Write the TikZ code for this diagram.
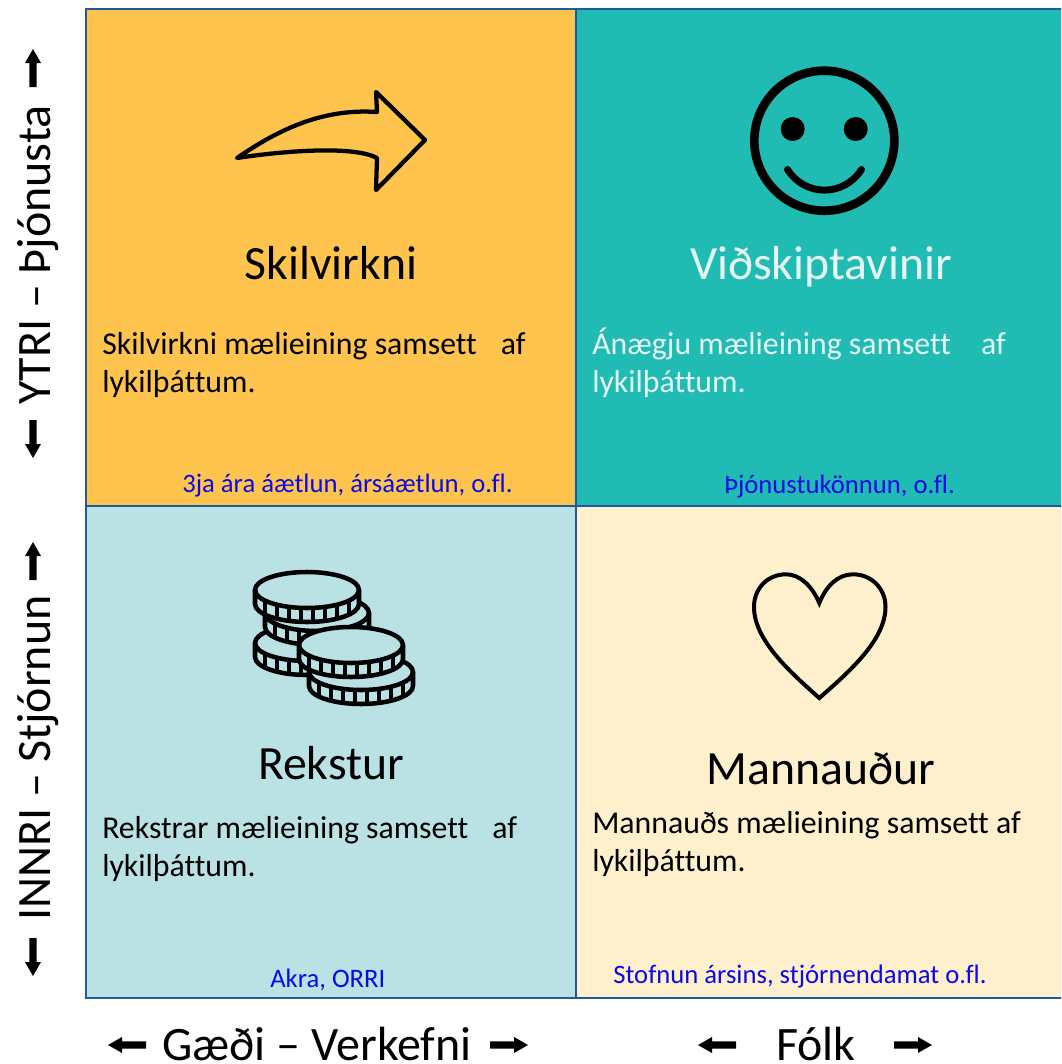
\documentclass[tikz,border=0pt]{standalone}
\usepackage{fontspec}
\setmainfont[Ligatures=CommonOff]{Carlito}
\definecolor{orangeq}{HTML}{FEC44D}
\definecolor{tealq}{HTML}{20BBB2}
\definecolor{blueq}{HTML}{BAE2E4}
\definecolor{creamq}{HTML}{FFF0CD}
\definecolor{edgeq}{HTML}{1F5A9C}
\definecolor{paleq}{HTML}{E6F6F5}
\definecolor{noteq}{HTML}{0A0AE6}
\tikzset{
  quad/.style={draw=edgeq,line width=2.2pt},
  title/.style={inner sep=0pt,anchor=base,font=\fontsize{35.8}{40}\selectfont},
  body/.style={inner sep=0pt,anchor=base west,align=left,font=\fontsize{23.85}{28.5}\selectfont},
  note/.style={inner sep=0pt,anchor=base west,text=noteq,font=\fontsize{20}{24}\selectfont},
  axis/.style={inner sep=0pt,font=\fontsize{36}{40}\selectfont},
  icon/.style={line width=3.2pt,line join=round,line cap=round},
  thickarrow/.style={fill=black,draw=none}
}
% coin: centre x,y
\newcommand{\coinq}[2]{%
  \fill[blueq] (#1-52,#2) -- (#1-52,#2+14) arc[start angle=180,end angle=0,x radius=52,y radius=18] -- (#1+52,#2) arc[start angle=0,end angle=-180,x radius=52,y radius=18] -- cycle;
  \foreach \k in {-42,-30,-18,-6,6,18,30,42}{
    \pgfmathsetmacro{\yy}{#2+18*sqrt(1-(\k/52)*(\k/52))}
    \draw[line width=2.6pt] (#1+\k,\yy) -- (#1+\k,\yy+14);
  }
  \draw[icon,line width=3.4pt] (#1-52,#2) -- (#1-52,#2+14) arc[start angle=180,end angle=0,x radius=52,y radius=18] -- (#1+52,#2);
  \draw[icon,line width=3.4pt] (#1,#2) ellipse[x radius=52,y radius=18];
}
\newcommand{\barrow}[3]{% x,y,rotation (pointing up by default, origin at tip)
  \fill[thickarrow,shift={(#1,#2)},rotate=#3] (0,0) -- (8,14) -- (3.6,14) -- (3.6,38) -- (-3.6,38) -- (-3.6,14) -- (-8,14) -- cycle;
}
\begin{document}
\begin{tikzpicture}[x=0.75pt,y=-0.75pt]
\useasboundingbox (0,0) rectangle (1061,1064);
\clip (0,0) rectangle (1061,1064);
\fill[white] (0,0) rectangle (1061,1064);
% quadrants
\path[quad,fill=orangeq] (86,9) rectangle (576,506);
\path[quad,fill=tealq] (576,9) rectangle (1066,506);
\path[quad,fill=blueq] (86,506) rectangle (576,998);
\path[quad,fill=creamq] (576,506) rectangle (1066,998);
% arrow icon
\draw[icon] (237,158) .. controls (275,132) and (320,108) .. (377,112) -- (376,92) -- (425,140) -- (376,190) -- (377,158) .. controls (355,146) and (290,150) .. (237,158) -- cycle;
% smiley
\draw[line width=6.5pt] (824.3,140.7) circle[radius=70];
\fill (792.7,129) circle[radius=12];
\fill (855.7,129) circle[radius=12];
\draw[line width=5.2pt,line cap=round] (787.5,169.5) .. controls (805,197) and (844,197) .. (861.5,169.5);
% coins
\coinq{307}{643}
\coinq{317}{613}
\coinq{307}{590}
\coinq{361}{672}
\coinq{351}{645}
% heart
\draw[line width=3pt,line join=miter] (819.3,698) .. controls (790,672) and (754,640) .. (754,607) .. controls (754,588) and (768,574.3) .. (786,574.3) .. controls (800,574.3) and (812,586) .. (819.3,603) .. controls (826,586) and (838,574.3) .. (853,574.3) .. controls (871,574.3) and (885.5,588) .. (885.5,607) .. controls (885.5,640) and (849,672) .. cycle;
% titles
\node[title] (t1) at (331,279) {Skilvirkni};
\node[title,text=paleq] (t2) at (821,279) {Viðskiptavinir};
\node[title] (t3) at (331,779) {Rekstur};
\node[title] (t4) at (821,784) {Mannauður};
% bodies
\node[body] (b1) at (102,392) {Skilvirkni mælieining samsett\hspace{0.53em} af\\lykilþáttum.};
\node[body,text=paleq] (b2) at (592,392) {Ánægju mælieining samsett\hspace{0.72em} af\\lykilþáttum.};
\node[body] (b3) at (102,876) {Rekstrar mælieining samsett\hspace{0.53em} af\\lykilþáttum.};
\node[body] (b4) at (592,871) {Mannauðs mælieining samsett af\\lykilþáttum.};
% notes
\node[note] (n1) at (182,492) {3ja ára áætlun, ársáætlun, o.fl.};
\node[note] (n2) at (724,493) {Þjónustukönnun, o.fl.};
\node[note] (n3) at (270,987) {Akra, ORRI};
\node[note] (n4) at (613,983) {Stofnun ársins, stjórnendamat o.fl.};
% axis labels
\node[axis,rotate=90,anchor=base] (a1) at (50,255) {YTRI – Þjónusta};
\node[axis,rotate=90,anchor=base] (a2) at (50,758) {INNRI – Stjórnun};
\node[axis,anchor=base] (a3) at (317,1060) {Gæði – Verkefni};
\node[axis,anchor=base] (a4) at (816,1060) {Fólk};
% axis arrows
\barrow{33}{49}{0}
\barrow{33}{458}{180}
\barrow{33}{542}{0}
\barrow{33}{976}{180}
\barrow{108}{1045}{90}
\barrow{528}{1045}{-90}
\barrow{698}{1045}{90}
\barrow{932}{1045}{-90}
\end{tikzpicture}
\end{document}
